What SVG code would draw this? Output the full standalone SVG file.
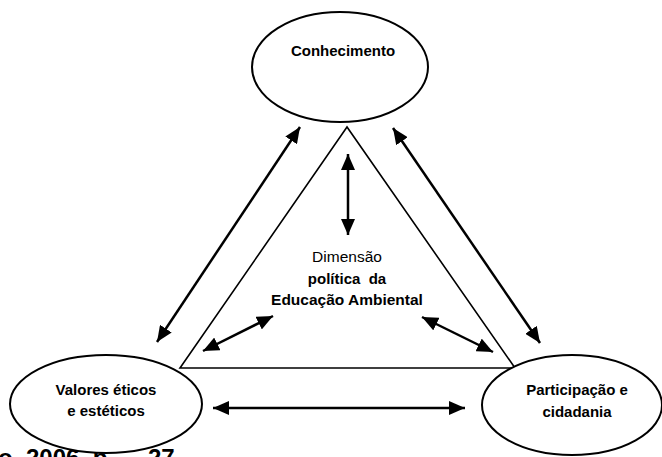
<svg xmlns="http://www.w3.org/2000/svg" width="662" height="457" viewBox="0 0 662 457">
<defs>
<style>
.node ellipse{fill:#fff;stroke:#000;stroke-width:2}
.lbl{font-family:"Liberation Sans",Arial,sans-serif;font-size:15px;font-weight:bold;text-anchor:middle;fill:#000}
.cn line{stroke:#000;stroke-width:2.5;marker-start:url(#ah);marker-end:url(#ah)}
.cite{font-family:"Liberation Sans",Arial,sans-serif;font-size:24px;font-weight:bold;fill:#000}
</style>
<marker id="ah" markerUnits="userSpaceOnUse" markerWidth="18" markerHeight="14" refX="16" refY="7" orient="auto-start-reverse">
<path d="M0,0 L16,7 L0,14 Z" fill="#000"/>
</marker>
</defs>
<rect width="662" height="457" fill="#fff"/>
<text class="cite" x="-2" y="466">o, 2006, p. <tspan x="148">27</tspan></text>
<g id="triangle">
<polygon points="347,127 180,368 515,368" fill="none" stroke="#000" stroke-width="1.6"/>
</g>
<g id="center">
<text x="347" y="262" font-family="'Liberation Sans',Arial,sans-serif" font-size="15.5" text-anchor="middle">Dimensão</text>
<text class="lbl" x="347" y="284" xml:space="preserve" style="font-size:15px">política  da</text>
<text class="lbl" x="347" y="305" style="font-size:15.5px">Educação Ambiental</text>
</g>
<g id="connectors" class="cn">
<line x1="348" y1="154" x2="348" y2="235"/>
<line x1="300" y1="127" x2="157" y2="342"/>
<line x1="393" y1="128" x2="540" y2="343"/>
<line x1="203" y1="351" x2="273" y2="316"/>
<line x1="422" y1="317" x2="493" y2="352"/>
<line x1="213" y1="408" x2="465" y2="408"/>
</g>
<g id="conhecimento" class="node">
<ellipse cx="340" cy="67" rx="88" ry="55"/>
<text class="lbl" x="343" y="56">Conhecimento</text>
</g>
<g id="valores" class="node">
<ellipse cx="106" cy="404" rx="96" ry="49"/>
<text class="lbl" x="106" y="395">Valores éticos</text>
<text class="lbl" x="106" y="416">e estéticos</text>
</g>
<g id="participacao" class="node">
<ellipse cx="572" cy="405" rx="90" ry="50"/>
<text class="lbl" x="577" y="395">Participação e</text>
<text class="lbl" x="577" y="417">cidadania</text>
</g>
</svg>
